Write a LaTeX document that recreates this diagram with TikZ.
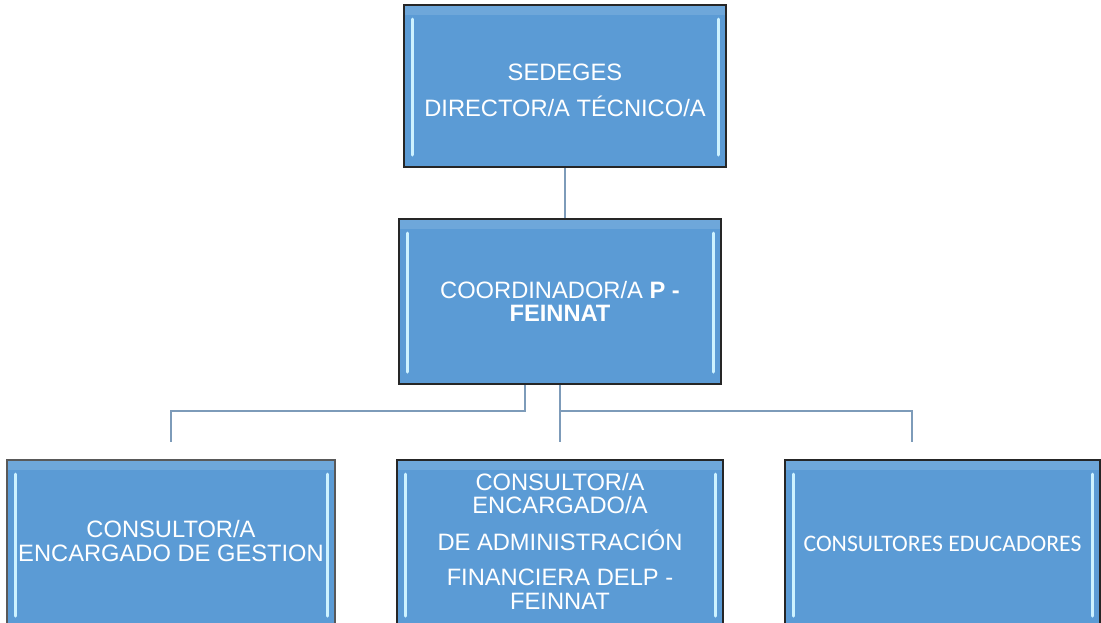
\documentclass[tikz,border=0pt]{standalone}
\usepackage{fontspec}
\setmainfont{Liberation Sans}
\newfontfamily\calibrifont{Carlito}
\usepackage{xcolor}
\usepackage{tikz}

\definecolor{boxblue}{RGB}{91,155,213}
\definecolor{bevelblue}{RGB}{205,242,255}
\definecolor{linkblue}{RGB}{125,155,185}

\begin{document}
\begin{tikzpicture}[x=1pt, y=-1pt,
    orgbox/.style={draw=black!85, line width=1.5pt, rectangle, fill=boxblue,
      text=white, align=center, inner sep=0pt,
      font=\fontsize{23.7}{23.5}\selectfont,
      path picture={
        \fill[white, opacity=0.12] (path picture bounding box.north west) rectangle ([yshift=-10pt]path picture bounding box.north east);
        \draw[bevelblue, line width=3pt, line cap=round] ([xshift=8pt,yshift=-14pt]path picture bounding box.north west) -- ([xshift=8pt,yshift=12pt]path picture bounding box.south west);
        \draw[bevelblue, line width=3pt, line cap=round] ([xshift=-8pt,yshift=-14pt]path picture bounding box.north east) -- ([xshift=-8pt,yshift=12pt]path picture bounding box.south east);
      }},
    link/.style={draw=linkblue, line width=2pt}]
            \useasboundingbox (0,0) rectangle (1101,622);

            \node[orgbox, minimum width=322pt, minimum height=162pt] (sedeges) at (565,86) {\rule{0pt}{25pt}SEDEGES\\[12pt]DIRECTOR/A TÉCNICO/A};

            \node[orgbox, minimum width=322pt, minimum height=165pt] (coord) at (560,301.5) {COORDINADOR/A \textbf{P -}\\\textbf{FEINNAT}};

            \node[orgbox, draw=black!65, minimum width=328pt, minimum height=168pt] (gestion) at (171,544) {CONSULTOR/A\\ENCARGADO DE GESTION\rule[-6pt]{0pt}{6pt}};
            \node[orgbox, minimum width=326pt, minimum height=168pt] (admin) at (560,544) {CONSULTOR/A\\ENCARGADO/A\\[13pt]DE ADMINISTRACIÓN\\[12pt]FINANCIERA DELP -\\FEINNAT\rule[-6pt]{0pt}{6pt}};
            \node[orgbox, minimum width=315pt, minimum height=168pt, font=\calibrifont\fontsize{23.7}{23.5}\selectfont] (educ) at (942.5,544) {CONSULTORES EDUCADORES};

            % free ends above the lower boxes
            \coordinate (gestend) at (171,442);
            \coordinate (adminend) at (560,442);
            \coordinate (educend) at (912,442);

            \draw[link] (sedeges.south) -- (sedeges.south |- coord.north);
            \draw[link] ([xshift=-35pt]coord.south) -- ++(0,26) -| (gestend);
            \draw[link] (coord.south) -- (adminend);
            \draw[link] (coord.south) ++(0,26) -| (educend);
        \end{tikzpicture}
\end{document}
